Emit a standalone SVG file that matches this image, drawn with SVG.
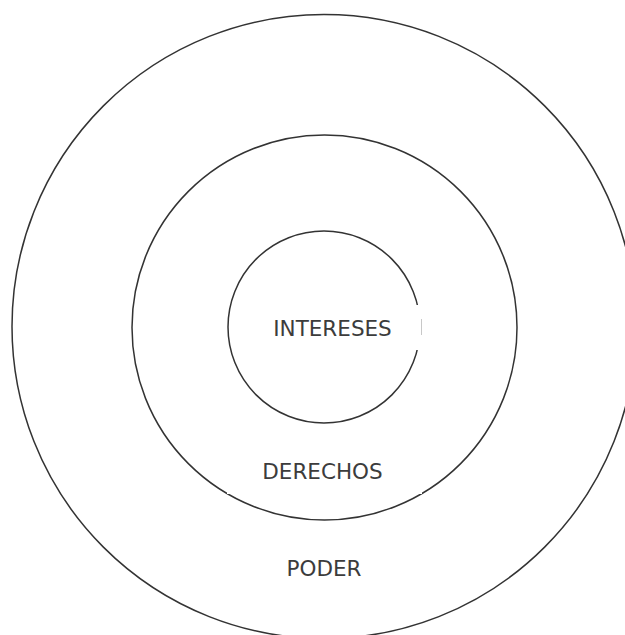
<svg xmlns="http://www.w3.org/2000/svg" width="625" height="635" viewBox="0 0 625 635">
  <style>
    .ring { fill: none; stroke: #333333; stroke-width: 1.5; }
    .label { font-family: "DejaVu Sans", Verdana, sans-serif; font-size: 21.5px; fill: #3c3c3c; text-anchor: middle; }
    .gap { fill: #ffffff; stroke: none; }
  </style>
  <rect width="625" height="635" fill="#ffffff"/>
  <g id="poder">
    <circle class="ring" cx="324" cy="326.5" r="312"/>
    <text class="label" x="324" y="576">PODER</text>
  </g>
  <g id="derechos">
    <circle class="ring" cx="324.5" cy="327.5" r="192.5"/>
    <rect class="gap" x="227" y="489" width="4" height="5"/>
    <rect class="gap" x="418" y="489" width="4" height="5"/>
    <text class="label" x="322.5" y="479">DERECHOS</text>
  </g>
  <g id="intereses">
    <circle class="ring" cx="324" cy="327" r="96"/>
    <rect class="gap" x="405" y="305" width="17" height="45"/>
    <line x1="421.5" y1="319" x2="421.5" y2="335" stroke="#c8c8c8" stroke-width="1"/>
    <text class="label" x="332.5" y="336">INTERESES</text>
  </g>
</svg>
